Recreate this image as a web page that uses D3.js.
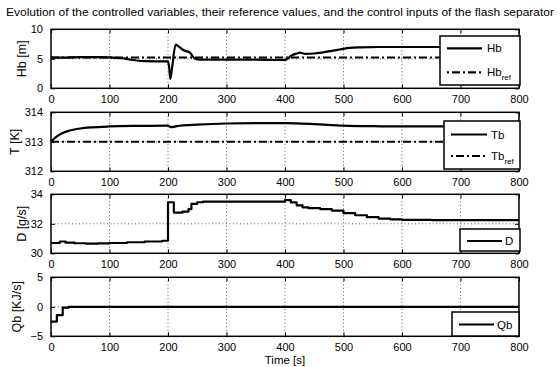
<!DOCTYPE html>
<html>
<head>
<meta charset="utf-8">
<script src="https://cdn.jsdelivr.net/npm/d3@7"></script>
<style>
  body { margin: 0; background: #fff; }
  text { font-family: "Liberation Sans", Arial, sans-serif; fill: #000; }
</style>
</head>
<body>
<svg id="chart" width="560" height="367"></svg>
<script>
// x ticks shared by all panels
const timeTicks = [0, 100, 200, 300, 400, 500, 600, 700, 800];

// Hb [m]
const hbTime  = [0, 20, 50, 80, 100, 120, 140, 160, 200, 202, 204, 207, 213, 218, 226, 238, 241, 245, 255, 300, 350, 395, 402, 410, 420, 425, 435, 450, 465, 480, 495, 510, 530, 560, 600, 700, 800];
const hbValue = [5.2, 5.2, 5.3, 5.3, 5.25, 5.1, 4.8, 4.6, 4.55, 3.5, 1.6, 3.5, 7.4, 7.1, 6.5, 6.0, 5.6, 5.1, 4.85, 4.85, 4.85, 4.8, 4.85, 5.5, 5.9, 6.05, 5.85, 5.9, 6.1, 6.35, 6.6, 6.85, 6.95, 7.0, 7.0, 7.0, 7.0];
const hbRef = 5.2;
const hbTicks = [0, 5, 10];

// Tb [K]
const tbTime  = [0, 10, 20, 30, 50, 70, 100, 150, 200, 205, 215, 250, 300, 350, 400, 450, 500, 550, 600, 700, 800];
const tbValue = [313.0, 313.18, 313.3, 313.37, 313.45, 313.49, 313.52, 313.54, 313.55, 313.5, 313.53, 313.58, 313.62, 313.63, 313.63, 313.6, 313.55, 313.53, 313.52, 313.52, 313.52];
const tbRef = 313;
const tbTicks = [312, 313, 314];

// D [g/s]
const dTime  = [0, 15, 25, 40, 60, 80, 100, 130, 160, 190, 200, 210, 225, 235, 240, 250, 260, 300, 400, 410, 420, 430, 440, 460, 480, 500, 520, 540, 560, 580, 600, 650, 700, 800];
const dValue = [30.7, 30.8, 30.72, 30.68, 30.65, 30.67, 30.7, 30.75, 30.8, 30.85, 33.46, 32.76, 32.83, 33.0, 33.35, 33.46, 33.5, 33.5, 33.6, 33.45, 33.25, 33.12, 33.06, 33.0, 32.9, 32.72, 32.58, 32.45, 32.35, 32.3, 32.26, 32.25, 32.25, 32.25];
const dTicks = [30, 32, 34];

// Qb [KJ/s]
const qbTime  = [0, 10, 20, 30, 800];
const qbValue = [-2.5, -1.4, -0.15, 0, 0];
const qbTicks = [-5, 0, 5];

const svg = d3.select("#chart");

const left = 51, right = 519, plotHeight = 59;

const x = d3.scaleLinear().domain([0, 800]).range([left, right]);

const panels = [
  {top: 29.3, ticks: hbTicks, label: "Hb [m]", labelX: 22,
   series: [{t: hbTime, v: hbValue, curve: d3.curveMonotoneX}], ref: hbRef,
   legend: {x: 440, y: 36, w: 80, h: 49, rows: [48.3, 72.3], line: [447, 482], text: 487, names: ["Hb", "Hb"]}},
  {top: 112.3, ticks: tbTicks, label: "T [K]", labelX: 15,
   series: [{t: tbTime, v: tbValue, curve: d3.curveMonotoneX}], ref: tbRef,
   legend: {x: 444, y: 121, w: 76, h: 48, rows: [134.5, 156], line: [451, 487], text: 491, names: ["Tb", "Tb"]}},
  {top: 194.3, ticks: dTicks, label: "D [g/s]", labelX: 22,
   series: [{t: dTime, v: dValue, curve: d3.curveStepAfter}], ref: null,
   legend: {x: 460, y: 229, w: 60, h: 22, rows: [241], line: [467, 502], text: 505, names: ["D"]}},
  {top: 277.3, ticks: qbTicks, label: "Qb [KJ/s]", labelX: 17,
   series: [{t: qbTime, v: qbValue, curve: d3.curveStepAfter}], ref: null,
   legend: {x: 452, y: 312, w: 67, h: 24, rows: [324.5], line: [459, 494], text: 497, names: ["Qb"]}}
];

svg.append("text")
  .attr("x", 280).attr("y", 16)
  .attr("text-anchor", "middle")
  .attr("font-size", "11.5px")
  .attr("textLength", 548)
  .attr("lengthAdjust", "spacingAndGlyphs")
  .text("Evolution of the controlled variables, their reference values, and the control inputs of the flash separator");

panels.forEach((p) => {
  const y = d3.scaleLinear()
    .domain(d3.extent(p.ticks))
    .range([p.top + plotHeight, p.top]);

  const g = svg.append("g");

  // dotted grid
  g.selectAll(".gx")
    .data(timeTicks.slice(1, -1))
    .enter().append("line")
    .attr("x1", (d) => x(d)).attr("x2", (d) => x(d))
    .attr("y1", p.top).attr("y2", p.top + plotHeight)
    .attr("stroke", "#333").attr("stroke-width", 0.8)
    .attr("stroke-dasharray", "1,2.5");

  g.selectAll(".gy")
    .data(p.ticks.slice(1, -1))
    .enter().append("line")
    .attr("x1", left).attr("x2", right)
    .attr("y1", (d) => y(d)).attr("y2", (d) => y(d))
    .attr("stroke", "#333").attr("stroke-width", 0.8)
    .attr("stroke-dasharray", "1,2.5");

  // reference line
  if (p.ref !== null) {
    g.append("line")
      .attr("x1", left).attr("x2", right)
      .attr("y1", y(p.ref)).attr("y2", y(p.ref))
      .attr("stroke", "#000").attr("stroke-width", 2)
      .attr("stroke-dasharray", "8,3,2,3");
  }

  // data
  p.series.forEach((s) => {
    const line = d3.line()
      .x((d, i) => x(s.t[i]))
      .y((d) => y(d))
      .curve(s.curve);
    g.append("path")
      .attr("d", line(s.v))
      .attr("fill", "none")
      .attr("stroke", "#000")
      .attr("stroke-width", 2.2)
      .attr("stroke-linejoin", "round");
  });

  // axes (ticks inside, no labels from the frame)
  const xAxisBottom = d3.axisBottom(x).tickValues(timeTicks).tickSize(-4).tickPadding(7);
  const xAxisTop = d3.axisTop(x).tickValues(timeTicks).tickSize(-4).tickFormat("");
  const yAxisLeft = d3.axisLeft(y).tickValues(p.ticks).tickSize(-4).tickPadding(8).tickFormat((d) => d < 0 ? "\u2212" + Math.abs(d) : d);
  const yAxisRight = d3.axisRight(y).tickValues(p.ticks).tickSize(-4).tickFormat("");

  const styleAxis = (sel) => {
    sel.select(".domain").remove();
    sel.selectAll(".tick line").attr("stroke", "#000").attr("stroke-width", 1);
    sel.selectAll("text").attr("font-size", "11px").attr("font-family", "Liberation Sans, Arial, sans-serif").attr("fill", "#000");
  };

  g.append("g").attr("transform", `translate(0,${p.top + plotHeight})`).call(xAxisBottom).call(styleAxis);
  g.append("g").attr("transform", `translate(0,${p.top})`).call(xAxisTop).call(styleAxis);
  g.append("g").attr("transform", `translate(${left},0)`).call(yAxisLeft).call(styleAxis);
  g.append("g").attr("transform", `translate(${right},0)`).call(yAxisRight).call(styleAxis);

  // frame
  g.append("rect")
    .attr("x", left).attr("y", p.top)
    .attr("width", right - left).attr("height", plotHeight)
    .attr("fill", "none").attr("stroke", "#000").attr("stroke-width", 1.5);

  // y label
  svg.append("text")
    .attr("transform", `translate(${p.labelX},${p.top + plotHeight / 2}) rotate(-90)`)
    .attr("text-anchor", "middle")
    .attr("dy", "0.35em")
    .attr("font-size", "12.5px")
    .text(p.label);

  // legend
  const L = p.legend;
  const lg = svg.append("g");
  lg.append("rect")
    .attr("x", L.x).attr("y", L.y).attr("width", L.w).attr("height", L.h)
    .attr("fill", "#fff").attr("stroke", "#000").attr("stroke-width", 1.5);
  L.rows.forEach((ry, i) => {
    lg.append("line")
      .attr("x1", L.line[0]).attr("x2", L.line[1])
      .attr("y1", ry).attr("y2", ry)
      .attr("stroke", "#000").attr("stroke-width", 2.2)
      .attr("stroke-dasharray", i === 1 ? "2,3,8,3,2,3,8,3" : null);
    const t = lg.append("text")
      .attr("x", L.text).attr("y", ry).attr("dy", "0.35em")
      .attr("font-size", "11.5px")
      .text(L.names[i]);
    if (i === 1) {
      t.append("tspan").attr("font-size", "8px").attr("dy", "4").text("ref");
    }
  });
});

svg.append("text")
  .attr("x", 285).attr("y", 364)
  .attr("text-anchor", "middle")
  .attr("font-size", "11.5px")
  .text("Time [s]");
</script>
</body>
</html>
